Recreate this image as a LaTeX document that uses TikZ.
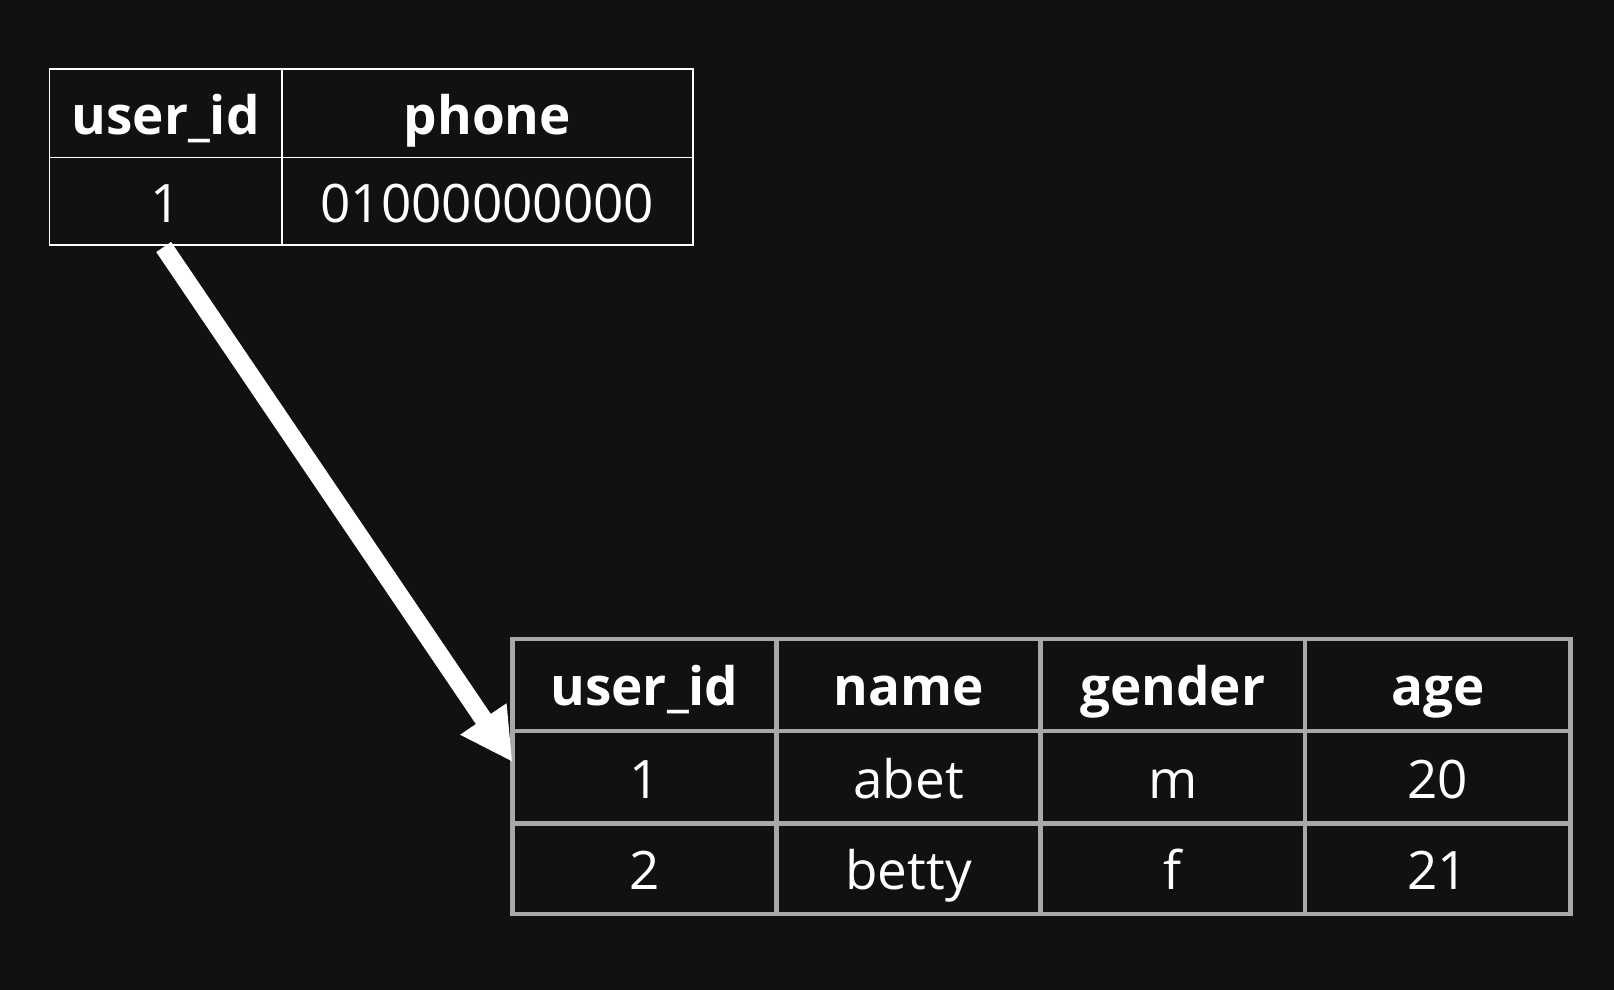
\documentclass[tikz,border=0pt]{standalone}
\usepackage{fontspec}
\setmainfont{Open Sans}
\usetikzlibrary{arrows.meta}
\definecolor{bg}{HTML}{111111}
\definecolor{gridgray}{HTML}{A8A8A8}
\tikzset{
  cell/.style={rectangle, inner sep=0pt, outer sep=0pt, text height=42pt, text depth=0pt,
    font=\fontsize{53}{60}\selectfont, text=white, anchor=center},
  topcell/.style={cell, draw=white, line width=1.6pt},
  botcell/.style={cell, draw=gridgray, line width=4.5pt},
  hdr/.append style={font=\fontsize{53}{60}\selectfont\bfseries},
  arrowline/.style={draw=white, line width=18pt, -{Triangle[length=52pt,width=52pt]}}
}
\begin{document}
\begin{tikzpicture}[x=1pt,y=1pt]
\fill[bg] (0,0) rectangle (1614,-990);
\useasboundingbox (0,0) rectangle (1614,-990);
% top table
\node[topcell,hdr,minimum width=232.6pt,minimum height=88.5pt] (t-h1) at (165.7,-113.25) {user\_id};
\node[topcell,hdr,minimum width=410.7pt,minimum height=88.5pt] (t-h2) at (487.35,-113.25) {phone};
\node[topcell,minimum width=232.6pt,minimum height=87.5pt] (t-r1) at (165.7,-201.25) {1};
\node[topcell,minimum width=410.7pt,minimum height=87.5pt] (t-r2) at (487.35,-201.25) {01000000000};
% bottom table
\node[botcell,hdr,minimum width=264pt,minimum height=91.8pt] (b-h1) at (644.5,-684.9) {user\_id};
\node[botcell,hdr,minimum width=264.1pt,minimum height=91.8pt] (b-h2) at (908.55,-684.9) {name};
\node[botcell,hdr,minimum width=264.4pt,minimum height=91.8pt] (b-h3) at (1172.8,-684.9) {gender};
\node[botcell,hdr,minimum width=265.5pt,minimum height=91.8pt] (b-h4) at (1437.75,-684.9) {age};
\node[botcell,minimum width=264pt,minimum height=92.5pt] (b-r1c1) at (644.5,-777.05) {1};
\node[botcell,minimum width=264.1pt,minimum height=92.5pt] (b-r1c2) at (908.55,-777.05) {abet};
\node[botcell,minimum width=264.4pt,minimum height=92.5pt] (b-r1c3) at (1172.8,-777.05) {m};
\node[botcell,minimum width=265.5pt,minimum height=92.5pt] (b-r1c4) at (1437.75,-777.05) {20};
\node[botcell,minimum width=264pt,minimum height=90.9pt] (b-r2c1) at (644.5,-868.75) {2};
\node[botcell,minimum width=264.1pt,minimum height=90.9pt] (b-r2c2) at (908.55,-868.75) {betty};
\node[botcell,minimum width=264.4pt,minimum height=90.9pt] (b-r2c3) at (1172.8,-868.75) {f};
\node[botcell,minimum width=265.5pt,minimum height=90.9pt] (b-r2c4) at (1437.75,-868.75) {21};
% arrow
\draw[arrowline] ([yshift=-2pt,xshift=-2pt]t-r1.south) -- ([yshift=15pt]b-r1c1.west);
\end{tikzpicture}
\end{document}
